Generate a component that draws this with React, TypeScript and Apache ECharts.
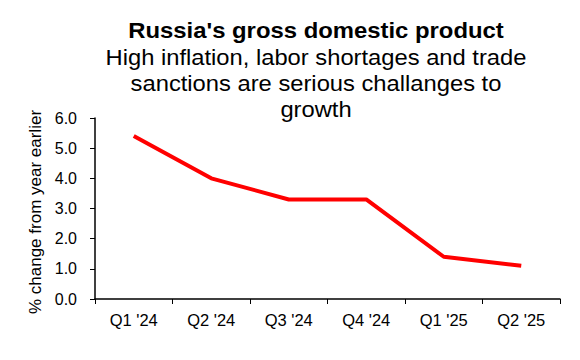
import React, { useEffect, useRef } from "react";
import * as echarts from "echarts";

const categories = ["Q1 '24", "Q2 '24", "Q3 '24", "Q4 '24", "Q1 '25", "Q2 '25"];
const gdpGrowth = [5.4, 4.0, 3.3, 3.3, 1.4, 1.1];
const titleText = "Russia's gross domestic product";
const subtitleLines = [
  "High inflation, labor shortages and trade",
  "sanctions are serious challanges to",
  "growth",
];
const yAxisName = "% change from year earlier";

export default function App() {
  const ref = useRef<HTMLDivElement>(null);
  useEffect(() => {
    if (!ref.current) return;
    const chart = echarts.init(ref.current, null, { renderer: "svg" });
    const font = "'Liberation Sans', Arial, sans-serif";
    const centerX = 316;
    const graphics: any[] = [
      {
        type: "text",
        x: centerX,
        y: 30,
        scaleX: 1.11,
        style: {
          text: titleText,
          fontFamily: font,
          fontSize: 21.5,
          fontWeight: "bold",
          fill: "#000",
          textAlign: "center",
          textVerticalAlign: "middle",
          align: "center",
          verticalAlign: "middle",
        },
      },
      ...subtitleLines.map((line, i) => ({
        type: "text",
        x: centerX,
        y: 57 + i * 26,
        scaleX: 1.08,
        style: {
          text: line,
          fontFamily: font,
          fontSize: 22,
          fill: "#000",
          textAlign: "center",
          textVerticalAlign: "middle",
          align: "center",
          verticalAlign: "middle",
        },
      })),
    ];
    chart.setOption({
      animation: false,
      backgroundColor: "#ffffff",
      textStyle: { fontFamily: font },
      graphic: graphics,
      grid: { left: 95, right: 20, top: 118, bottom: 61, containLabel: false },
      xAxis: {
        type: "category",
        data: categories,
        boundaryGap: true,
        axisLine: { lineStyle: { color: "#000", width: 1.5 } },
        axisTick: { show: true, length: 5, lineStyle: { color: "#000" }, alignWithLabel: false },
        axisLabel: { color: "#000", fontSize: 16.5, margin: 12, fontFamily: font },
      },
      yAxis: {
        type: "value",
        min: 0,
        max: 6,
        interval: 1,
        name: yAxisName,
        nameLocation: "middle",
        nameGap: 48,
        nameTextStyle: { color: "#000", fontSize: 17, fontFamily: font, padding: [0, 7, 0, 0] },
        axisLine: { show: true, lineStyle: { color: "#000", width: 1.5 } },
        axisTick: { show: true, length: 5, lineStyle: { color: "#000" } },
        axisLabel: { color: "#000", fontSize: 16, margin: 18, fontFamily: font, formatter: (v: number) => v.toFixed(1) },
        splitLine: { show: false },
      },
      series: [
        {
          type: "line",
          data: gdpGrowth,
          symbol: "none",
          lineStyle: { color: "#ff0000", width: 4 },
        },
      ],
    });
    return () => chart.dispose();
  }, []);
  return <div ref={ref} style={{ width: 580, height: 360, position: "absolute", left: 0, top: 0 }} />;
}
